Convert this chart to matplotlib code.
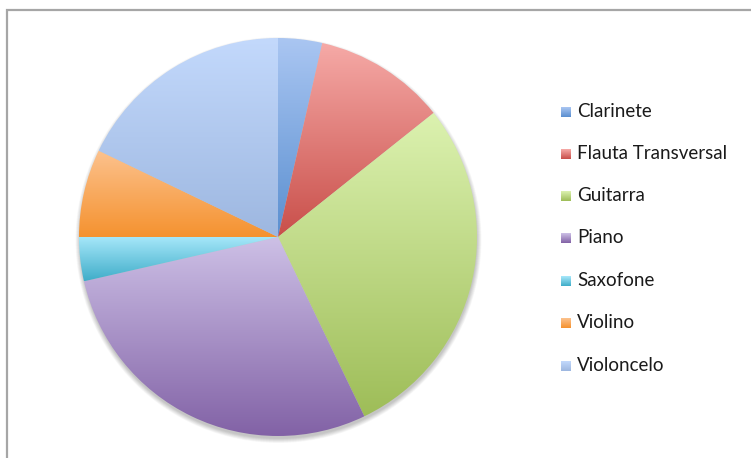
import numpy as np
import matplotlib
matplotlib.use("Agg")
import matplotlib.pyplot as plt
from matplotlib.patches import Circle
from matplotlib.colors import to_rgb

# Instrumentos tocados pelos alunos
categorias = ["Clarinete", "Flauta Transversal", "Guitarra", "Piano",
              "Saxofone", "Violino", "Violoncelo"]
alunos = [1, 3, 8, 8, 1, 2, 5]

# Cores de cada fatia: tom claro (topo) e tom escuro (base) do degradê
cor_topo = ["#aac6f2", "#f6aaa7", "#dcf2b0", "#cdc0e6", "#a8e8fa", "#fcc28e", "#c3d9fc"]
cor_base = ["#5a8fd0", "#c94f4a", "#9ebd58", "#8262a6", "#3fadc9", "#f5922f", "#9db7e0"]

W, H = 751, 458
fig = plt.figure(figsize=(W / 100, H / 100), dpi=100)
ax = fig.add_axes([0, 0, 1, 1])

cx, cy, r = 278, H - 237, 199

wedges, _ = ax.pie(alunos, startangle=90, counterclock=False, center=(cx, cy),
                   radius=r, frame=True,
                   wedgeprops=dict(linewidth=0, edgecolor="none"))
ax.set_aspect("auto")
ax.set_axis_off()

# Moldura do gráfico
ax.plot([6.5, 6.5, W + 5], [-5, H - 9.5, H - 9.5], color="#a6a6a6", lw=1.6,
        solid_joinstyle="miter", zorder=1)

# Sombra suave sob o círculo
for k in range(10):
    ax.add_patch(Circle((cx + 0.5, cy - 3), r + 4 - k * 0.5, color="black",
                        alpha=0.022, lw=0, zorder=2))


def gradiente(c1, c2, n=256):
    a = np.array(to_rgb(c1))
    b = np.array(to_rgb(c2))
    t = np.linspace(0, 1, n)[:, None]
    return (a * (1 - t) + b * t)[:, None, :]


for w, c1, c2 in zip(wedges, cor_topo, cor_base):
    w.set_facecolor("none")
    th = np.radians(np.linspace(w.theta1, w.theta2, 200))
    ys = np.concatenate([[cy], cy + r * np.sin(th)])
    xs = np.concatenate([[cx], cx + r * np.cos(th)])
    img = ax.imshow(gradiente(c1, c2), extent=[xs.min(), xs.max(), ys.min(), ys.max()],
                    origin="upper", aspect="auto", interpolation="bilinear", zorder=3)
    img.set_clip_path(w)

# Legenda
leg_y = [112, 154, 196, 238, 281, 323, 366]
for nome, c1, c2, py in zip(categorias, cor_topo, cor_base, leg_y):
    y = H - py
    ax.imshow(gradiente(c1, c2, 32), extent=[561, 571, y - 5, y + 5], origin="upper",
              aspect="auto", interpolation="bilinear", zorder=4)
    ax.text(577, y + 0.5, nome, fontsize=13.5, family="Lato", va="center", ha="left",
            color="#1a1a1a", zorder=5)

ax.set_xlim(0, W)
ax.set_ylim(0, H)
ax.set_aspect("auto")
fig.savefig("out.png", dpi=100, facecolor="white")
